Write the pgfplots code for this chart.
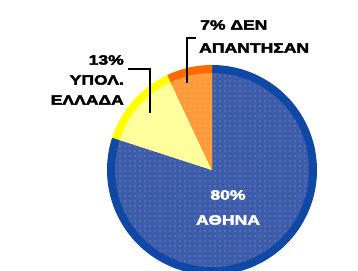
\documentclass[border=0pt]{standalone}
\usepackage{pgfplots}
\pgfplotsset{compat=1.18}
\usetikzlibrary{patterns.meta}
\usepackage{fontspec}
\setmainfont{Liberation Sans}
\newfontfamily\lblfont[FakeStretch=1.3,FakeBold=3,BoldFont={Liberation Sans Bold}]{Liberation Sans}
\definecolor{blueout}{HTML}{1048A6}
\definecolor{bluein}{HTML}{3D5DAB}
\definecolor{bluedot}{HTML}{6E80C8}
\definecolor{yelout}{HTML}{FFFF00}
\definecolor{yelin}{HTML}{FFFF99}
\definecolor{yeldot}{HTML}{FFFFCC}
\definecolor{orout}{HTML}{FF6A00}
\definecolor{orin}{HTML}{FF9A3C}
\definecolor{ordot}{HTML}{FFBB55}
\tikzdeclarepattern{name=pdots, type=uncolored,
  bounding box={(-2.5bp,-2.5bp) and (2.5bp,2.5bp)},
  tile size={(5bp,5bp)},
  code={\fill (0,0) circle (0.9bp);}}
% shares (percent)
\def\pAth{80}\def\pRest{13}\def\pNo{7}
\pgfmathsetmacro{\aA}{90}
\pgfmathsetmacro{\aB}{90+3.6*\pNo}
\pgfmathsetmacro{\aC}{\aB+3.6*\pRest}
\pgfmathsetmacro{\aD}{\aC+3.6*\pAth}
\tikzset{lbl/.style={font=\lblfont\bfseries\fontsize{13.5bp}{15bp}\selectfont, inner sep=0pt}}
\begin{document}
\begin{tikzpicture}
\begin{axis}[
  width=358bp, height=271bp, scale only axis,
  xmin=0, xmax=358, ymin=0, ymax=271,
  axis lines=none, clip=true,
]
% Athens
\addplot[fill=blueout, draw=none, domain=\aC:\aD, samples=120] ({212+105*cos(x)},{101+105*sin(x)}) -- (axis cs:212,101) -- cycle;
\addplot[fill=bluein, draw=none, domain=\aC:\aD, samples=120, postaction={pattern=pdots, pattern color=bluedot}] ({212+97*cos(x)},{101+97*sin(x)}) -- (axis cs:212,101) -- cycle;
% rest of Greece
\addplot[fill=yelout, draw=none, domain=\aB:\aC, samples=30] ({212+105*cos(x)},{101+105*sin(x)}) -- (axis cs:212,101) -- cycle;
\addplot[fill=yelin, draw=none, domain=\aB:\aC, samples=30, postaction={pattern=pdots, pattern color=yeldot}] ({212+97*cos(x)},{101+97*sin(x)}) -- (axis cs:212,101) -- cycle;
% no answer
\addplot[fill=orout, draw=none, domain=\aA:\aB, samples=20] ({212+105*cos(x)},{101+105*sin(x)}) -- (axis cs:212,101) -- cycle;
\addplot[fill=orin, draw=none, domain=\aA:\aB, samples=20, postaction={pattern=pdots, pattern color=ordot}] ({212+97*cos(x)},{101+97*sin(x)}) -- (axis cs:212,101) -- cycle;
% leader lines
\addplot[black, line width=2bp] coordinates {(128,202) (150,202) (150,158)};
\addplot[black, line width=2bp] coordinates {(196,233) (187,233) (187,188)};
% labels
\node[lbl, anchor=west] at (axis cs:200,246) {7\% ΔΕΝ};
\node[lbl, anchor=west] at (axis cs:199,223) {ΑΠΑΝΤΗΣΑΝ};
\node[lbl, anchor=east] at (axis cs:124,211) {13\%};
\node[lbl, anchor=east] at (axis cs:124,191) {ΥΠΟΛ.};
\node[lbl, anchor=east] at (axis cs:124,171) {ΕΛΛΑΔΑ};
\node[lbl, white] at (axis cs:228,76) {80\%};
\node[lbl, white] at (axis cs:228,51) {ΑΘΗΝΑ};
\end{axis}
\pgfresetboundingbox
\useasboundingbox (current axis.south west) rectangle (current axis.north east);
\end{tikzpicture}
\end{document}
